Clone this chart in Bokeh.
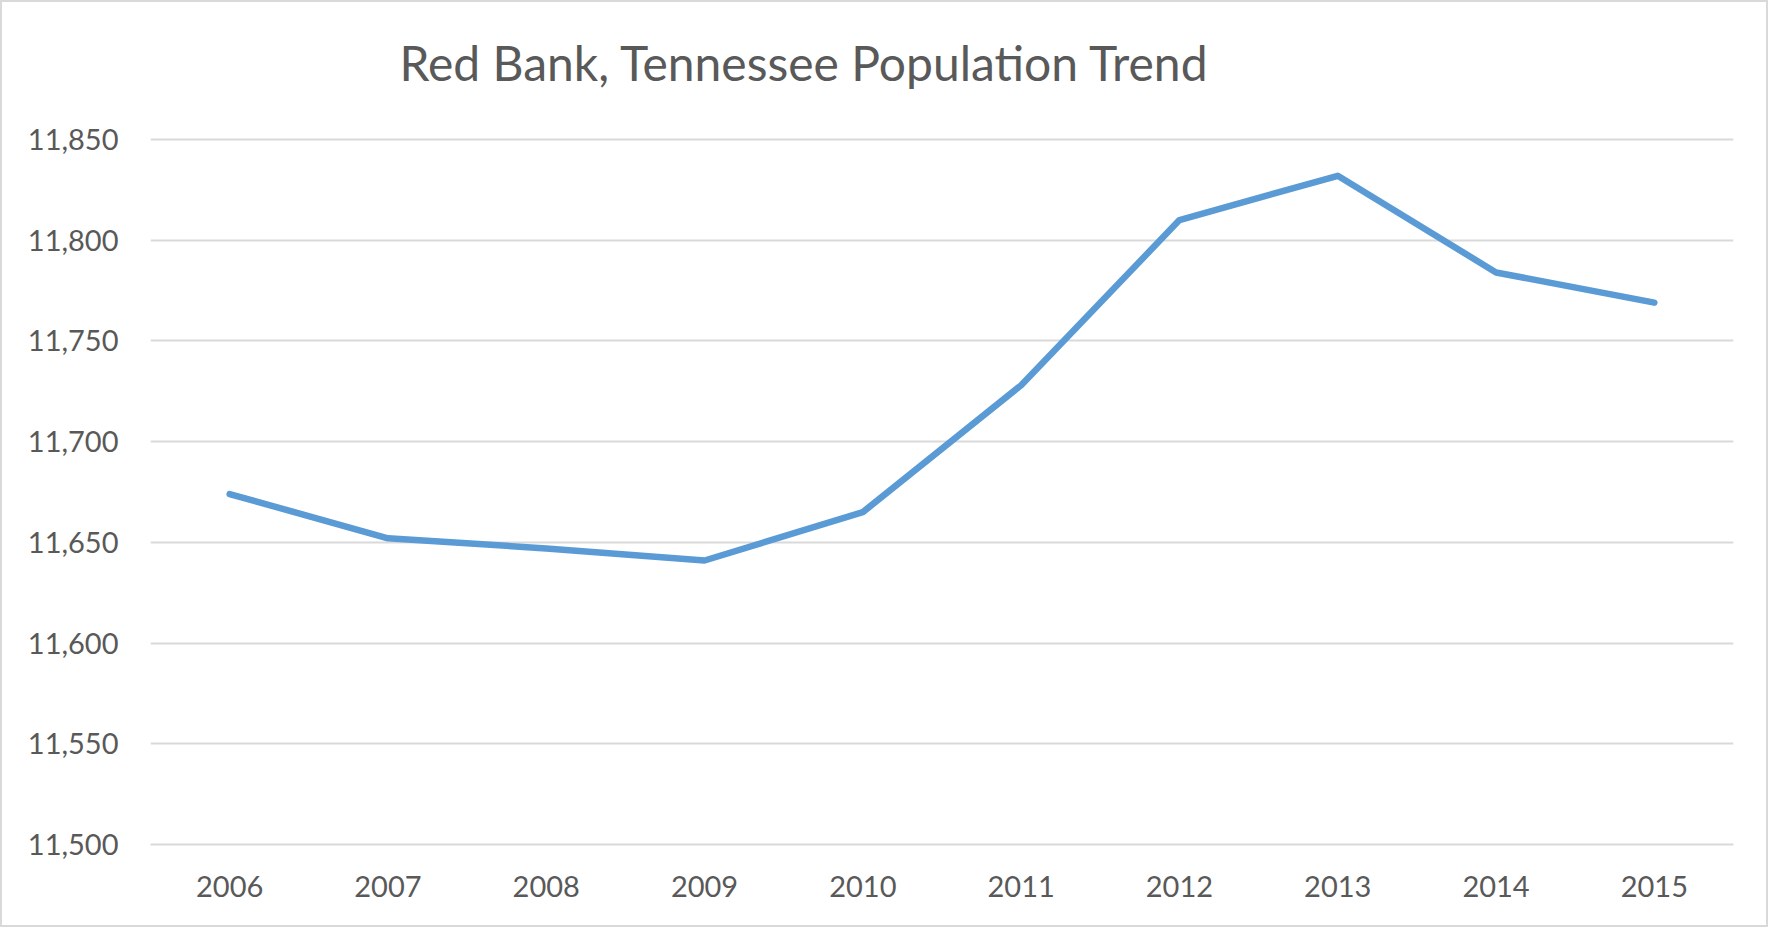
from bokeh.plotting import figure
from bokeh.models import FactorRange, Range1d, FixedTicker, NumeralTickFormatter
from bokeh.embed import file_html
from bokeh.resources import INLINE

# ---- data ----
years = ["2006", "2007", "2008", "2009", "2010", "2011", "2012", "2013", "2014", "2015"]
population = [11674, 11652, 11647, 11641, 11665, 11728, 11810, 11832, 11784, 11769]
y_ticks = [11500, 11550, 11600, 11650, 11700, 11750, 11800, 11850]
title_text = "Red Bank, Tennessee  Population Trend"

FONT = "Lato"
TXT = "#595959"
GRID = "#D9D9D9"

# the frame reaches a little above the top gridline (title panel is fixed by the font)
frame_top_px, top_grid_px, bottom_px = 122, 137, 842
units_per_px = (y_ticks[-1] - y_ticks[0]) / (bottom_px - top_grid_px)
y_end = y_ticks[-1] + (top_grid_px - frame_top_px) * units_per_px

p = figure(
    width=1768, height=927,
    x_range=FactorRange(*years, range_padding=0),
    y_range=Range1d(y_ticks[0], y_end),
    output_backend="svg", toolbar_location=None,
    min_border_left=148, min_border_right=37,
    min_border_top=0, min_border_bottom=85,
)
p.x_range.group_padding = 0
p.x_range.factor_padding = 0

p.line(years, population, line_color="#5B9BD5", line_width=6.5, line_cap="round", line_join="round")

# title
p.title.text = title_text
p.title.text_font = FONT
p.title.text_font_size = "48px"
p.title.text_font_style = "normal"
p.title.text_color = TXT
p.title.align = "left"
p.title.vertical_align = "top"
p.title.offset = 249
p.title.standoff = 63

# frame / background
p.outline_line_color = None
p.background_fill_color = "white"
p.border_fill_color = "white"
p.styles = {"border": "2px solid #D9D9D9"}

# y axis
p.yaxis.ticker = FixedTicker(ticks=y_ticks)
p.yaxis.formatter = NumeralTickFormatter(format="0,0")
p.yaxis.axis_line_color = None
p.yaxis.major_tick_line_color = None
p.yaxis.minor_tick_line_color = None
p.yaxis.major_label_standoff = 26
p.yaxis.major_label_text_font = FONT
p.yaxis.major_label_text_font_size = "29px"
p.yaxis.major_label_text_color = TXT

# x axis
p.xaxis.axis_line_color = GRID
p.xaxis.axis_line_width = 2
p.xaxis.major_tick_line_color = None
p.xaxis.minor_tick_line_color = None
p.xaxis.major_label_standoff = 25
p.xaxis.major_label_text_font = FONT
p.xaxis.major_label_text_font_size = "29px"
p.xaxis.major_label_text_color = TXT

# grids
p.xgrid.grid_line_color = None
p.ygrid.grid_line_color = GRID
p.ygrid.grid_line_width = 2

open("out.html", "w").write(file_html(p, INLINE))
